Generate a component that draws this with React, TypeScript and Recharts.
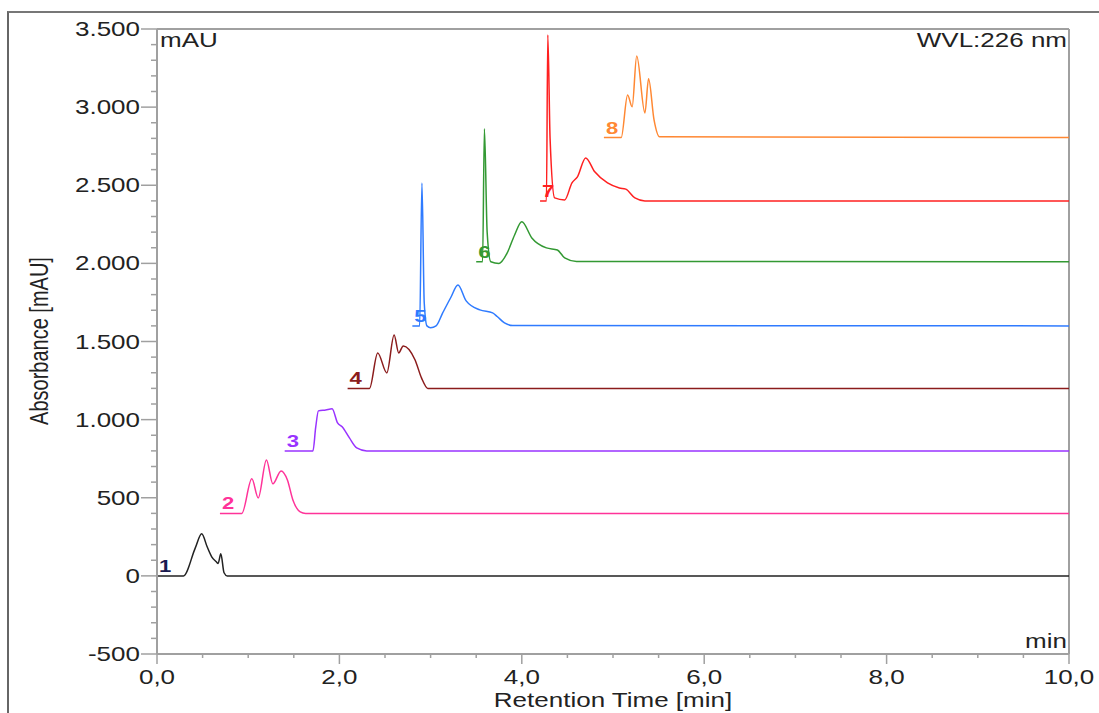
import React from 'react';
import { LineChart, Line, XAxis, YAxis, ReferenceLine, ReferenceDot } from 'recharts';

// retention times (min) and absorbance (mAU)
const t1 = [0, 0.29, 0.42, 0.49, 0.55, 0.6, 0.65, 0.67, 0.7, 0.735, 0.77, 10];
const v1 = [0, 0, 179, 269, 186, 122, 90, 80, 141, 20, 0, 0];

const t2 = [0.69, 0.93, 1.04, 1.11, 1.2, 1.27, 1.36, 1.43, 1.49, 1.57, 1.63, 10];
const v2 = [400, 400, 621, 499, 742, 589, 672, 614, 486, 410, 400, 400];

const t3 = [1.4, 1.71, 1.74, 1.77, 1.85, 1.92, 1.98, 2.03, 2.11, 2.19, 2.3, 10];
const v3 = [800, 800, 950, 1056, 1062, 1069, 979, 954, 883, 819, 800, 800];

const t4 = [2.09, 2.33, 2.42, 2.52, 2.6, 2.65, 2.7, 2.83, 2.9, 2.97, 10];
const v4 = [1200, 1200, 1427, 1299, 1542, 1427, 1472, 1382, 1267, 1200, 1200];

const t5 = [2.8, 2.88, 2.905, 2.93, 2.96, 3.0, 3.06, 3.13, 3.22, 3.3, 3.39, 3.54, 3.68, 3.73, 3.81, 3.9, 10];
const v5 = [1600, 1600, 2515, 1750, 1600, 1588, 1600, 1680, 1780, 1862, 1760, 1702, 1683, 1660, 1619, 1602, 1600];

const t6 = [3.5, 3.57, 3.59, 3.62, 3.66, 3.75, 3.84, 3.92, 4.0, 4.11, 4.27, 4.39, 4.47, 4.6, 10];
const v6 = [2010, 2010, 2861, 2200, 2010, 2000, 2067, 2180, 2266, 2163, 2099, 2086, 2035, 2012, 2010];

const t7 = [4.2, 4.27, 4.285, 4.31, 4.36, 4.47, 4.55, 4.61, 4.7, 4.8, 4.94, 5.07, 5.14, 5.24, 5.35, 10];
const v7 = [2400, 2400, 3462, 2800, 2419, 2406, 2515, 2554, 2675, 2586, 2515, 2483, 2475, 2419, 2400, 2400];

const t8 = [4.9, 5.09, 5.16, 5.21, 5.26, 5.35, 5.39, 5.45, 5.51, 10];
const v8 = [2805, 2805, 3078, 3002, 3328, 2963, 3181, 2918, 2810, 2805];

const traceNames = ['1', '2', '3', '4', '5', '6', '7', '8'];
const traceTimes = [t1, t2, t3, t4, t5, t6, t7, t8];
const traceValues = [v1, v2, v3, v4, v5, v6, v7, v8];

const yTicks = Array.from({ length: 41 }, (_, i) => -500 + i * 100);
const xTicks = Array.from({ length: 21 }, (_, i) => i * 0.5);

const colors = ['#222222', '#ff3399', '#9933ff', '#8b1c1c', '#2f7bff', '#339933', '#ff2020', '#ff8833'];
const labelColors = ['#1a1a50', '#ff3399', '#9933ff', '#8b1c1c', '#2f7bff', '#339933', '#ff2020', '#ff8833'];

const SX = 1.3;
const FONT = '"Liberation Sans", Arial, sans-serif';
const AXIS = '#a0a0a0';
const TEXT = '#222';

const series = traceNames.map((name, i) => ({
  name,
  data: traceTimes[i].map((t, j) => ({ t, v: traceValues[i][j] })),
}));

function fmtY(v: number) {
  if (Math.abs(v) < 1000) return String(v);
  const th = Math.floor(v / 1000);
  return `${th}.${String(v % 1000).padStart(3, '0')}`;
}

function fmtX(v: number) {
  return v.toFixed(1).replace('.', ',');
}

function YTick({ x, y, payload }: any) {
  const v = payload.value;
  const major = v % 500 === 0;
  return (
    <g>
      <line x1={x - (major ? 16 : 6)} x2={x} y1={y} y2={y} stroke={AXIS} strokeWidth={1.5} />
      {major && (
        <text transform={`translate(${x - 17},${y + 7}) scale(${SX},1)`} textAnchor="end" fontSize={20} fontFamily={FONT} fill={TEXT}>
          {fmtY(v)}
        </text>
      )}
    </g>
  );
}

function XTick({ x, y, payload }: any) {
  const v = payload.value;
  const major = Math.abs(v % 2) < 1e-6;
  return (
    <g>
      <line x1={x} x2={x} y1={y} y2={y + (major ? 10 : 4)} stroke={AXIS} strokeWidth={1.5} />
      {major && (
        <text transform={`translate(${x},${y + 30}) scale(${SX},1)`} textAnchor="middle" fontSize={20} fontFamily={FONT} fill={TEXT}>
          {fmtX(v)}
        </text>
      )}
    </g>
  );
}

export default function App() {
  return (
    <div style={{ position: 'fixed', left: 0, top: 0, width: 1099, height: 713, overflow: 'hidden', background: '#fff' }}>
      <div style={{ position: 'absolute', left: 7, top: 11, width: 1200, height: 800, borderLeft: '2px solid #666', borderTop: '2px solid #777' }} />
      <div style={{ position: 'absolute', left: 0, top: 0 }}>
        <LineChart width={1099} height={713} margin={{ top: 29, right: 30, bottom: 19, left: 57 }}>
          <XAxis
            type="number"
            dataKey="t"
            domain={[0, 10]}
            ticks={xTicks}
            interval={0}
            tickSize={0}
            tickMargin={0}
            tickLine={false}
            axisLine={{ stroke: AXIS, strokeWidth: 2 }}
            tick={<XTick />}
            height={40}
            allowDuplicatedCategory={false}
          />
          <YAxis
            type="number"
            dataKey="v"
            domain={[-500, 3500]}
            ticks={yTicks}
            interval={0}
            tickSize={0}
            tickMargin={0}
            tickLine={false}
            axisLine={{ stroke: AXIS, strokeWidth: 2 }}
            tick={<YTick />}
            width={100}
          />
          <ReferenceLine y={3500} stroke={AXIS} strokeWidth={2} />
          <ReferenceLine x={10} stroke={AXIS} strokeWidth={2} />
          {series.map((s, i) => (
            <Line
              key={s.name}
              data={s.data}
              dataKey="v"
              type="monotone"
              stroke={colors[i]}
              strokeWidth={1.5}
              dot={false}
              activeDot={false}
              isAnimationActive={false}
            />
          ))}
          {series.map((s, i) => (
            <ReferenceDot
              key={`lab-${s.name}`}
              x={s.data[0].t}
              y={s.data[0].v}
              r={0}
              shape={(p: any) => (
                <text
                  transform={`translate(${p.cx + 2},${p.cy - 4}) scale(${SX},1)`}
                  fontSize={17}
                  fontWeight="bold"
                  fontFamily={FONT}
                  fill={labelColors[i]}
                >
                  {s.name}
                </text>
              )}
            />
          ))}
          <text transform={`translate(160,47) scale(${SX},1)`} fontSize={20} fontFamily={FONT} fill={TEXT}>
            mAU
          </text>
          <text transform={`translate(1067,47) scale(${SX},1)`} textAnchor="end" fontSize={20} fontFamily={FONT} fill={TEXT}>
            WVL:226 nm
          </text>
          <text transform={`translate(1067,648) scale(${SX},1)`} textAnchor="end" fontSize={20} fontFamily={FONT} fill={TEXT}>
            min
          </text>
          <text transform={`translate(613,707) scale(${SX},1)`} textAnchor="middle" fontSize={20} fontFamily={FONT} fill={TEXT}>
            Retention Time [min]
          </text>
          <text transform={`translate(48,341) scale(${SX},1) rotate(-90)`} textAnchor="middle" fontSize={20} fontFamily={FONT} fill={TEXT}>
            Absorbance [mAU]
          </text>
        </LineChart>
      </div>
    </div>
  );
}
